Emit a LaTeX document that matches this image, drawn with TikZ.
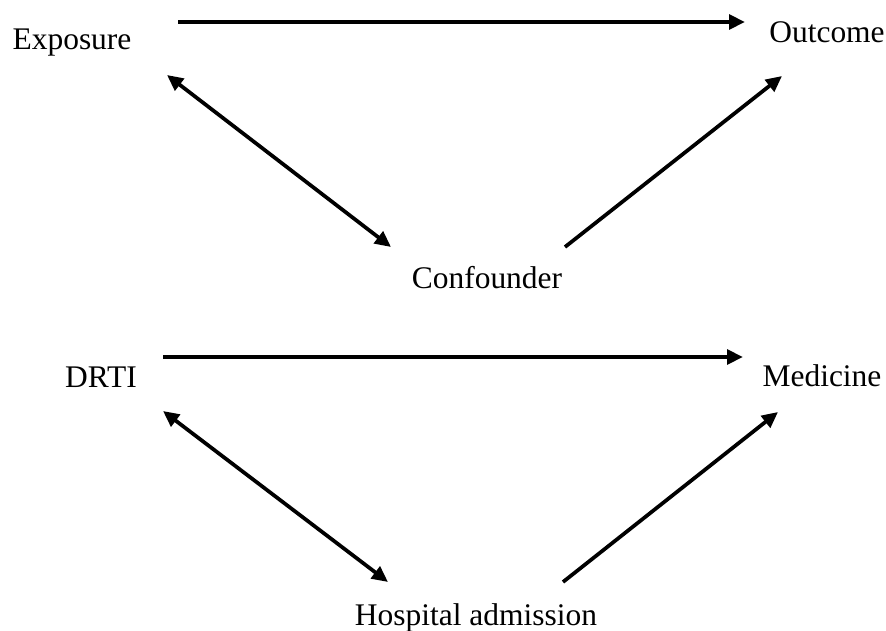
\documentclass[tikz,border=0pt]{standalone}
\usepackage{fontspec}
\setmainfont{Liberation Serif}
\usetikzlibrary{calc,arrows.meta}

\begin{document}
\begin{tikzpicture}[x=0.75pt,y=-0.75pt,line width=2.8pt,
  font=\fontsize{23.6}{28}\selectfont,
  every node/.style={anchor=base,inner sep=0pt},
  arr/.style={-{Triangle[length=12pt,width=11pt]}},
  biarr/.style={{Triangle[length=12pt,width=11pt]}-{Triangle[length=12pt,width=11pt]}}]
\useasboundingbox (0,0) rectangle (886,631);

\node at (72,50) (expo) {Exposure};
\node at (827,43) (outc) {Outcome};
\node at (487,288) (conf) {Confounder};

\draw[arr] ($(expo.base)+(106,-28)$) -- ($(outc.base)+(-82,-21)$);
\draw[biarr] ($(expo.base)+(95,25)$) -- ($(conf.base)+(-96,-41)$);
\draw[arr] ($(conf.base)+(78,-41)$) -- ($(outc.base)+(-45,33)$);

\node at (101,387) (drti) {DRTI};
\node at (822,386) (medi) {Medicine};
\node at (476,625) (hosp) {Hospital admission};

\draw[arr] ($(drti.base)+(62,-30)$) -- ($(medi.base)+(-79,-29)$);
\draw[biarr] ($(drti.base)+(62,24)$) -- ($(hosp.base)+(-88,-43)$);
\draw[arr] ($(hosp.base)+(87,-43)$) -- ($(medi.base)+(-44,26)$);
\end{tikzpicture}
\end{document}
